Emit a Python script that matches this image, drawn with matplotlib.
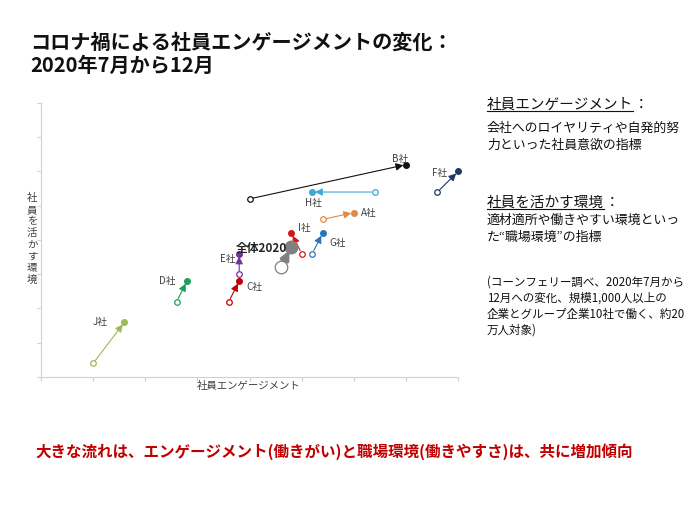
import matplotlib
matplotlib.use("Agg")
import matplotlib.pyplot as plt
from matplotlib.lines import Line2D

plt.rcParams['font.family'] = ['Noto Sans CJK JP', 'DejaVu Sans']

# ---- data ----
companies = ['J社', 'D社', 'C社', 'E社', '全体2020', 'I社', 'G社', 'A社', 'H社', 'B社', 'F社']
x_start = [1.0, 2.6, 3.6, 3.8, 4.6, 5.0, 5.2, 5.4, 6.4, 4.0, 7.6]
y_start = [0.4, 2.2, 2.2, 3.0, 3.2, 3.6, 3.6, 4.6, 5.4, 5.2, 5.4]
x_end = [1.6, 2.8, 3.8, 3.8, 4.8, 4.8, 5.4, 6.0, 5.2, 7.0, 8.0]
y_end = [1.6, 2.8, 2.8, 3.6, 3.8, 4.2, 4.2, 4.8, 5.4, 6.2, 6.0]
x_label = '社員エンゲージメント'
y_label = '社員を活かす環境'

# ---- styles ----
colors = ['#9BBB59', '#1E9E5A', '#C00000', '#7030A0', '#808080', '#D01818',
          '#2E75B6', '#E08A45', '#3CAAD2', '#111111', '#1F3864']
# label offsets in points (dx, dy) relative to end point, and alignment
label_off = {
    'J社': (-12, 0, 'right'), 'D社': (-8, 0, 'right'), 'C社': (5, -4, 'left'),
    'E社': (-3, -4, 'right'), '全体2020': (-3, -1, 'right'), 'I社': (5, 4, 'left'),
    'G社': (5, -7, 'left'), 'A社': (5, 0, 'left'), 'H社': (1, -8, 'center'),
    'B社': (-4, 4, 'center'), 'F社': (-8, -1, 'right'),
}

fig = plt.figure(figsize=(7, 5.25), dpi=100)
ax = fig.add_axes([0.0586, 0.2819, 0.596, 0.522])
ax.set_xlim(0, 8)
ax.set_ylim(0, 8)
ax.set_xticks(range(9))
ax.set_yticks(range(9))
ax.set_xticklabels([])
ax.set_yticklabels([])
for s in ['top', 'right']:
    ax.spines[s].set_visible(False)
for s in ['left', 'bottom']:
    ax.spines[s].set_color('#D0D0D0')
    ax.spines[s].set_linewidth(0.8)
ax.tick_params(axis='both', length=3, color='#D0D0D0', width=0.8)

for i, name in enumerate(companies):
    c = colors[i]
    big = name.startswith('全体')
    lw = 3.0 if big else 0.8
    ms = 9 if big else 4
    ax.annotate('', xy=(x_end[i], y_end[i]), xytext=(x_start[i], y_start[i]),
                arrowprops=dict(arrowstyle='-|>', color=c, lw=lw,
                                shrinkA=3.5 if big else 2.5,
                                shrinkB=3 if big else 2,
                                mutation_scale=11 if big else 11),
                annotation_clip=False, zorder=2)
    ax.plot(x_start[i], y_start[i], 'o', mfc='white', mec=c, ms=ms, mew=0.9,
            clip_on=False, zorder=3)
    ax.plot(x_end[i], y_end[i], 'o', mfc=c, mec=c, ms=ms, clip_on=False, zorder=4)
    dx, dy, ha = label_off[name]
    ax.annotate(name, xy=(x_end[i], y_end[i]), xytext=(dx, dy),
                textcoords='offset points', ha=ha, va='center',
                fontsize=8.5 if big else 7,
                fontweight='bold' if big else 'normal',
                color='#222222' if big else '#404040', annotation_clip=False,
                zorder=5)

fig.text(249 / 700, 1 - 386 / 525, x_label, ha='center', va='center',
         fontsize=7.5, color='#404040')
fig.text(32 / 700, 1 - 239 / 525, '\n'.join(y_label), ha='center', va='center',
         fontsize=7.5, color='#404040', linespacing=1.2)

# title
fig.text(30 / 700, 1 - 42 / 525, 'コロナ禍による社員エンゲージメントの変化：',
         ha='left', va='center', fontsize=14.5, fontweight='bold', color='#111111')
fig.text(30 / 700, 1 - 65 / 525, '2020年7月から12月',
         ha='left', va='center', fontsize=14.5, fontweight='bold', color='#111111')

# right side text
h1 = fig.text(487 / 700, 1 - 105 / 525, '社員エンゲージメント',
              ha='left', va='center', fontsize=10.5, color='#111111')
h2 = fig.text(487 / 700, 1 - 203 / 525, '社員を活かす環境',
              ha='left', va='center', fontsize=10.5, color='#111111')
fig.text(487 / 700, 1 - 137 / 525, '会社へのロイヤリティや自発的努\n力といった社員意欲の指標',
         ha='left', va='center', fontsize=9.3, color='#111111', linespacing=1.35)
fig.text(487 / 700, 1 - 229 / 525, '適材適所や働きやすい環境といっ\nた“職場環境”の指標',
         ha='left', va='center', fontsize=9.3, color='#111111', linespacing=1.35)
fig.text(487 / 700, 1 - 306 / 525,
         '(コーンフェリー調べ、2020年7月から\n12月への変化、規模1,000人以上の\n企業とグループ企業10社で働く、約20\n万人対象)',
         ha='left', va='center', fontsize=8.3, color='#111111', linespacing=1.3)

fig.canvas.draw()
r = fig.canvas.get_renderer()
for h in (h1, h2):
    bb = h.get_window_extent(r)
    ytop = bb.y0 + 1
    fig.add_artist(Line2D([bb.x0 / 700, bb.x1 / 700], [ytop / 525, ytop / 525],
                          transform=fig.transFigure, color='#111111', lw=0.8))
    fig.text((bb.x1 + 1) / 700, (bb.y0 + bb.y1) / 2 / 525, '：', ha='left',
             va='center', fontsize=10.5, color='#111111')

fig.text(35 / 700, 1 - 452 / 525,
         '大きな流れは、エンゲージメント(働きがい)と職場環境(働きやすさ)は、共に増加傾向',
         ha='left', va='center', fontsize=11.2, fontweight='bold', color='#C00000')

fig.savefig('out.png', dpi=100)
